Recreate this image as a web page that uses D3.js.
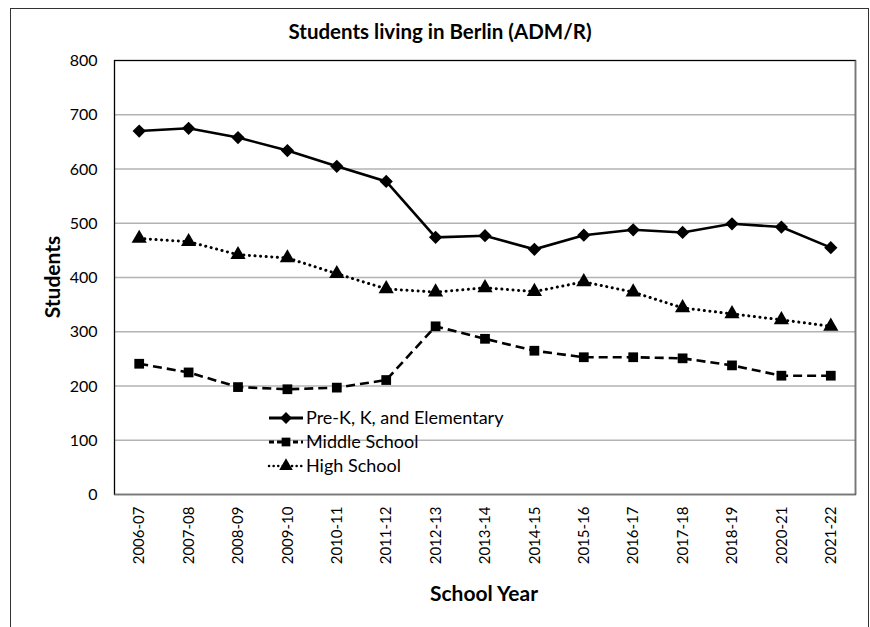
<!DOCTYPE html>
<html><head><meta charset="utf-8">
<script src="https://cdn.jsdelivr.net/npm/d3@7"></script>
<style>body{margin:0;background:#fff}svg{display:block}text{font-family:Lato,"Open Sans",sans-serif;fill:#000}</style>
</head><body><svg id="c" width="870" height="627"></svg>
<script>
const categories = ["2006-07","2007-08","2008-09","2009-10","2010-11","2011-12","2012-13","2013-14","2014-15","2015-16","2016-17","2017-18","2018-19","2020-21","2021-22"];
const seriesNames = ["Pre-K, K, and Elementary","Middle School","High School"];
const elementary = [670,675,658,634,605,577,474,477,452,478,488,483,499,493,455];
const middle = [241,225,198,194,197,211,310,287,265,253,253,251,238,219,219];
const high = [472,466,442,436,407,379,373,381,374,392,373,344,333,322,310];
const yTicks = [0,100,200,300,400,500,600,700,800];

const svg = d3.select("#c");
const L=114.5, R=855.5, T=60.5, B=494.5;
const x = d3.scaleBand().domain(categories).range([L,R]);
const y = d3.scaleLinear().domain([0,800]).range([B,T]);

// outer frame
svg.append("rect").attr("x",10.5).attr("y",8.5).attr("width",858).attr("height",640)
  .attr("fill","none").attr("stroke","#333").attr("stroke-width",1);

// gridlines
svg.append("g").selectAll("line").data(yTicks.filter(d=>d>0&&d<800)).join("line")
  .attr("x1",L).attr("x2",R).attr("y1",d=>y(d)).attr("y2",d=>y(d))
  .attr("stroke","#b3b3b3").attr("stroke-width",1.5);

// plot border
svg.append("rect").attr("x",L).attr("y",T).attr("width",R-L).attr("height",B-T)
  .attr("fill","none").attr("stroke","#000").attr("stroke-width",1.3);
svg.append("line").attr("x1",R).attr("x2",R).attr("y1",T).attr("y2",B).attr("stroke","#777").attr("stroke-width",1.5);
svg.append("line").attr("x1",L).attr("x2",R).attr("y1",B).attr("y2",B).attr("stroke","#777").attr("stroke-width",1.5);

// y axis
const yAxis = d3.axisLeft(y).tickValues(yTicks).tickSize(0).tickPadding(17);
const ga = svg.append("g").attr("transform",`translate(${L},0)`).attr("font-size",16).call(yAxis);
ga.select(".domain").remove();
ga.selectAll("text").attr("font-size",16).attr("font-family","Lato,sans-serif").attr("fill","#000");

// x axis
const xAxis = d3.axisBottom(x).tickSize(0).tickPadding(0);
const gx = svg.append("g").attr("transform",`translate(0,${B})`).call(xAxis);
gx.select(".domain").remove();
gx.selectAll("text").attr("font-size",15).attr("font-family","Lato,sans-serif").attr("fill","#000")
  .attr("transform","rotate(-90)").attr("text-anchor","end").attr("dy","0.35em").attr("x",-12).attr("y",0);

// titles
svg.append("text").attr("x",440).attr("y",39).attr("text-anchor","middle").attr("font-weight","bold").attr("font-size",20.5).text("Students living in Berlin (ADM/R)");
svg.append("text").attr("transform","translate(60,277) rotate(-90)").attr("text-anchor","middle").attr("font-weight","bold").attr("font-size",21).text("Students");
svg.append("text").attr("x",484).attr("y",601).attr("text-anchor","middle").attr("font-weight","bold").attr("font-size",21).text("School Year");

const cx = d => x(d)+x.bandwidth()/2;
const diamond = {draw(ctx,size){const r=Math.sqrt(size/2);ctx.moveTo(0,-r);ctx.lineTo(r,0);ctx.lineTo(0,r);ctx.lineTo(-r,0);ctx.closePath();}};
const series = [
  {name:seriesNames[0], vals:elementary, dash:null, sym:diamond, size:88},
  {name:seriesNames[1], vals:middle, dash:"9,5", sym:d3.symbolSquare, size:95},
  {name:seriesNames[2], vals:high, dash:"0.1,5.5", sym:d3.symbolTriangle, size:100}
];
const line = d3.line().x((d,i)=>cx(categories[i])).y(d=>y(d));
series.forEach(s=>{
  svg.append("path").datum(s.vals).attr("d",line).attr("fill","none").attr("stroke","#000")
    .attr("stroke-width",s.dash==="0.1,5.5"?3:2.6).attr("stroke-dasharray",s.dash).attr("stroke-linecap",s.dash==="0.1,5.5"?"round":"butt");
  svg.append("g").selectAll("path").data(s.vals).join("path")
    .attr("d",d3.symbol().type(s.sym).size(s.size))
    .attr("transform",(d,i)=>`translate(${cx(categories[i])},${y(d)})`).attr("fill","#000");
});

// legend
const lg = svg.append("g");
series.forEach((s,i)=>{
  const yy = 418 + i*24;
  lg.append("line").attr("x1",269).attr("x2",303).attr("y1",yy).attr("y2",yy).attr("stroke","#000")
    .attr("stroke-width",s.dash==="0.1,5.5"?2.5:2.8).attr("stroke-dasharray",s.dash==="9,5"?"5,3":(s.dash?"0.1,4.5":null)).attr("stroke-linecap",s.dash==="0.1,5.5"?"round":"butt");
  lg.append("path").attr("d",d3.symbol().type(s.sym).size(s.size*0.8)).attr("transform",`translate(286,${yy})`).attr("fill","#000");
  lg.append("text").attr("x",306).attr("y",yy).attr("dy","0.35em").attr("font-size",18).text(s.name);
});
</script></body></html>
